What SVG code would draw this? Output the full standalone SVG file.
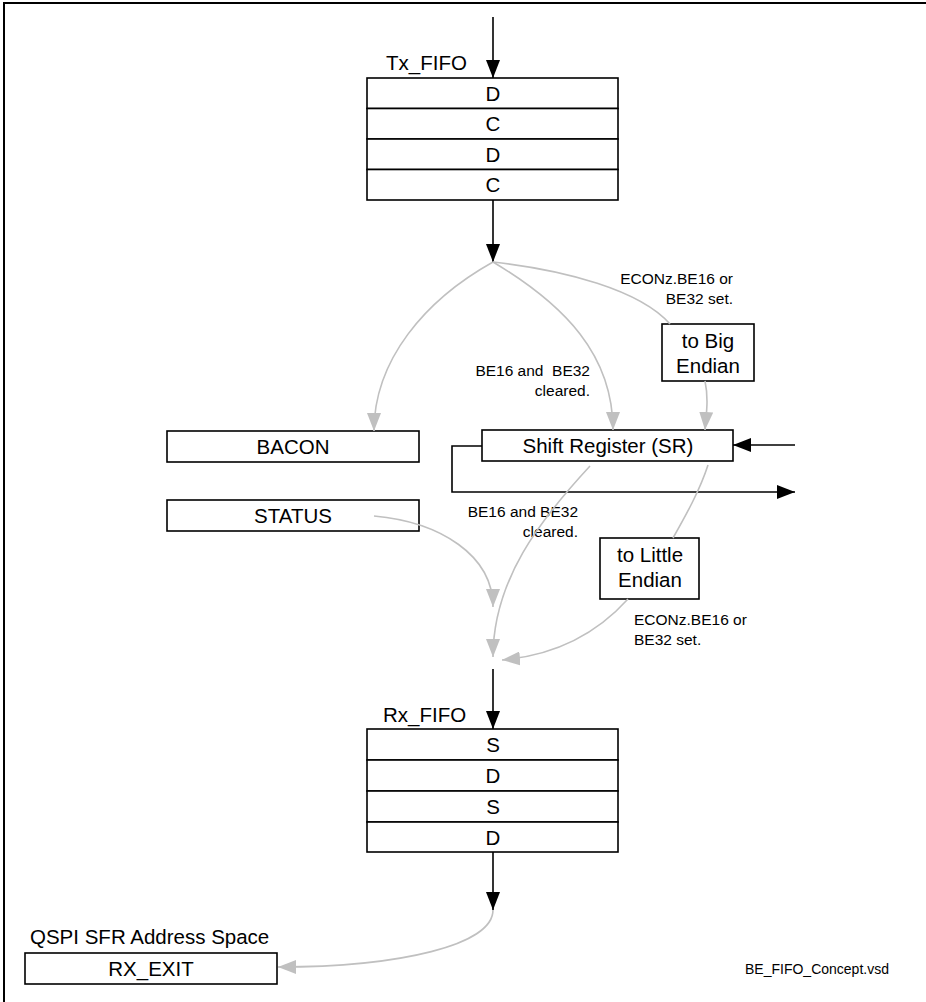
<svg xmlns="http://www.w3.org/2000/svg" width="926" height="1002" viewBox="0 0 926 1002">
<style>
text{font-family:"Liberation Sans",Arial,sans-serif;fill:#000}
.t{font-size:20.5px;text-anchor:middle}
.l{font-size:20.5px}
.s{font-size:15.5px}
.r{text-anchor:end}
.box{fill:#fff;stroke:#000;stroke-width:1.6}
.bk{fill:none;stroke:#000;stroke-width:1.6}
.gy{fill:none;stroke:#c0c0c0;stroke-width:1.6}
</style>
<defs>
<marker id="ab" viewBox="0 0 18 14" refX="18" refY="7" markerWidth="18" markerHeight="14" markerUnits="userSpaceOnUse" orient="auto"><path d="M0,0 L18,7 L0,14 z" fill="#000"/></marker>
<marker id="ag" viewBox="0 0 18 14" refX="18" refY="7" markerWidth="18" markerHeight="14" markerUnits="userSpaceOnUse" orient="auto"><path d="M0,0 L18,7 L0,14 z" fill="#c0c0c0"/></marker>
</defs>
<path d="M4,1002 V3 H926" fill="none" stroke="#000" stroke-width="2"/>

<g id="tx_fifo">
<text class="l" x="386" y="70">Tx_FIFO</text>
<rect class="box" x="367" y="78" width="251" height="30.5"/>
<rect class="box" x="367" y="108.5" width="251" height="30.5"/>
<rect class="box" x="367" y="139" width="251" height="30.5"/>
<rect class="box" x="367" y="169.5" width="251" height="30.5"/>
<text class="t" x="493" y="101">D</text>
<text class="t" x="493" y="131">C</text>
<text class="t" x="493" y="162">D</text>
<text class="t" x="493" y="192">C</text>
</g>

<g id="bacon"><rect class="box" x="167" y="431" width="252" height="31"/><text class="t" x="293" y="454">BACON</text></g>
<g id="status"><rect class="box" x="167" y="500" width="252" height="31"/><text class="t" x="293" y="523">STATUS</text></g>
<g id="sr"><rect class="box" x="482" y="430" width="251" height="31"/><text class="t" x="608" y="453">Shift Register (SR)</text></g>
<g id="to_big"><rect class="box" x="662" y="324" width="92" height="57"/><text class="t" x="708" y="348">to Big</text><text class="t" x="708" y="373">Endian</text></g>
<g id="to_little"><rect class="box" x="600" y="538" width="99" height="61"/><text class="t" x="650" y="562">to Little</text><text class="t" x="650" y="587">Endian</text></g>

<g id="rx_fifo">
<text class="l" x="383" y="722">Rx_FIFO</text>
<rect class="box" x="367" y="729" width="251" height="31"/>
<rect class="box" x="367" y="760" width="251" height="31"/>
<rect class="box" x="367" y="791" width="251" height="31"/>
<rect class="box" x="367" y="822" width="251" height="30"/>
<text class="t" x="493" y="752">S</text>
<text class="t" x="493" y="783">D</text>
<text class="t" x="493" y="814">S</text>
<text class="t" x="493" y="845">D</text>
</g>

<g id="rx_exit">
<text class="l" x="30" y="944">QSPI SFR Address Space</text>
<rect class="box" x="25" y="953" width="252" height="31"/>
<text class="t" x="151" y="976">RX_EXIT</text>
</g>

<g id="labels">
<text class="s r" x="733" y="284">ECONz.BE16 or</text>
<text class="s r" x="733" y="304">BE32 set.</text>
<text class="s r" x="590" y="376" xml:space="preserve">BE16 and  BE32</text>
<text class="s r" x="590" y="396">cleared.</text>
<text class="s r" x="578" y="517">BE16 and BE32</text>
<text class="s r" x="578" y="537">cleared.</text>
<text class="s" x="634" y="625">ECONz.BE16 or</text>
<text class="s" x="634" y="645">BE32 set.</text>
<text x="745" y="974" style="font-size:14px">BE_FIFO_Concept.vsd</text>
</g>

<g id="connectors">
<path class="bk" d="M493,17 V78" marker-end="url(#ab)"/>
<path class="bk" d="M493,200 V262" marker-end="url(#ab)"/>
<path class="bk" d="M795,445 H733" marker-end="url(#ab)"/>
<path class="bk" d="M482,446 H452 V492 H795" marker-end="url(#ab)"/>
<path class="bk" d="M493,669 V729" marker-end="url(#ab)"/>
<path class="bk" d="M493,852 V910" marker-end="url(#ab)"/>
<path class="gy" d="M493,262 C425,300 374,360 374,431" marker-end="url(#ag)"/>
<path class="gy" d="M493,262 C565,305 613,355 613,430" marker-end="url(#ag)"/>
<path class="gy" d="M493,262 C565,270 640,290 670,324"/>
<path class="gy" d="M705,381 C709,400 706,415 705,430" marker-end="url(#ag)"/>
<path class="gy" d="M374,516 C440,522 493,555 493,607" marker-end="url(#ag)"/>
<path class="gy" d="M590,466 C540,520 493,580 493,657" marker-end="url(#ag)"/>
<path class="gy" d="M708,465 C700,490 686,515 673,538"/>
<path class="gy" d="M628,599 C600,630 560,655 502,660" marker-end="url(#ag)"/>
<path class="gy" d="M493,910 C493,945 400,967 278,967" marker-end="url(#ag)"/>
</g>
</svg>
